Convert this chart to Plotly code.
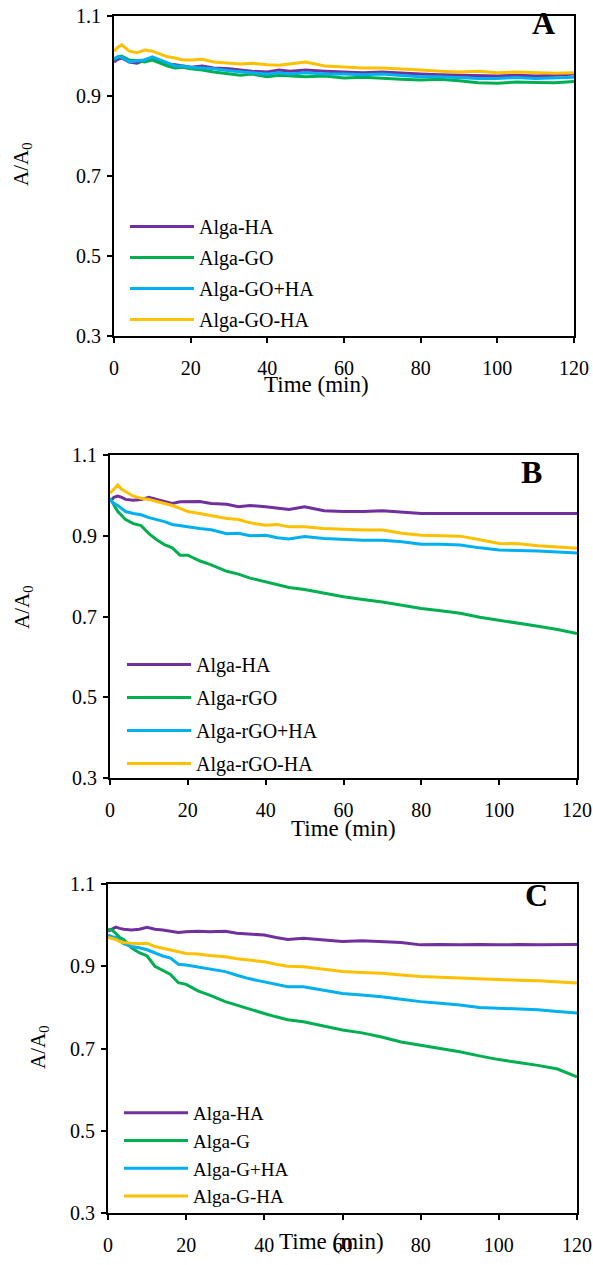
import plotly.graph_objects as go

# time grid (min) shared by all series
T = [0, 1, 2, 3, 4, 6, 8, 10, 12, 14, 16, 18, 20, 23, 26, 30, 33, 36, 40, 43, 46,
     50, 55, 60, 65, 70, 75, 80, 85, 90, 95, 100, 105, 110, 115, 120]

# panel A
A_HA = [0.985, 0.992, 0.995, 0.990, 0.985, 0.982, 0.990, 0.995, 0.988, 0.980, 0.978, 0.975, 0.972, 0.975, 0.970, 0.968, 0.965, 0.962,
        0.960, 0.965, 0.962, 0.965, 0.962, 0.960, 0.958, 0.960, 0.957, 0.955, 0.953, 0.952, 0.950, 0.950, 0.952, 0.950, 0.952, 0.955]
A_GO = [0.990, 0.998, 1.000, 0.995, 0.990, 0.988, 0.985, 0.990, 0.982, 0.975, 0.970, 0.972, 0.968, 0.965, 0.960, 0.955, 0.952, 0.955,
        0.948, 0.952, 0.950, 0.948, 0.950, 0.945, 0.947, 0.944, 0.942, 0.940, 0.942, 0.938, 0.933, 0.932, 0.935, 0.934, 0.933, 0.936]
A_GO_plus_HA = [0.993, 0.998, 0.997, 0.990, 0.985, 0.988, 0.990, 0.998, 0.990, 0.982, 0.975, 0.975, 0.972, 0.970, 0.968, 0.963, 0.960, 0.958,
                0.955, 0.958, 0.955, 0.958, 0.955, 0.955, 0.953, 0.955, 0.951, 0.948, 0.948, 0.946, 0.944, 0.944, 0.946, 0.944, 0.945, 0.947]
A_GO_HA = [1.012, 1.022, 1.028, 1.020, 1.012, 1.008, 1.015, 1.012, 1.005, 0.998, 0.995, 0.990, 0.990, 0.992, 0.985, 0.982, 0.980, 0.982,
           0.978, 0.977, 0.980, 0.985, 0.975, 0.972, 0.970, 0.970, 0.968, 0.965, 0.962, 0.960, 0.962, 0.958, 0.960, 0.958, 0.957, 0.958]

# panel B
B_HA = [0.985, 0.995, 0.998, 0.995, 0.990, 0.988, 0.990, 0.995, 0.990, 0.985, 0.980, 0.984, 0.984, 0.985, 0.980, 0.978, 0.972, 0.975,
        0.972, 0.968, 0.965, 0.972, 0.962, 0.960, 0.960, 0.962, 0.958, 0.955, 0.955, 0.955, 0.954, 0.955, 0.955, 0.955, 0.955, 0.955]
B_rGO = [0.993, 0.975, 0.960, 0.950, 0.940, 0.930, 0.925, 0.905, 0.890, 0.878, 0.870, 0.852, 0.852, 0.838, 0.828, 0.812, 0.805, 0.795,
         0.786, 0.778, 0.772, 0.767, 0.758, 0.749, 0.742, 0.736, 0.728, 0.720, 0.714, 0.708, 0.698, 0.691, 0.684, 0.676, 0.668, 0.658]
B_rGO_plus_HA = [0.990, 0.980, 0.975, 0.968, 0.960, 0.955, 0.952, 0.945, 0.940, 0.935, 0.928, 0.925, 0.922, 0.918, 0.915, 0.905, 0.906, 0.900,
                 0.901, 0.895, 0.892, 0.898, 0.893, 0.891, 0.889, 0.889, 0.885, 0.879, 0.879, 0.877, 0.870, 0.865, 0.864, 0.862, 0.860, 0.857]
B_rGO_HA = [1.005, 1.015, 1.026, 1.015, 1.010, 0.998, 0.993, 0.990, 0.985, 0.980, 0.975, 0.968, 0.960, 0.955, 0.950, 0.943, 0.940, 0.932,
            0.926, 0.928, 0.922, 0.922, 0.918, 0.916, 0.914, 0.914, 0.906, 0.901, 0.900, 0.899, 0.890, 0.881, 0.880, 0.875, 0.872, 0.869]

# panel C
C_HA = [0.985, 0.990, 0.995, 0.992, 0.990, 0.988, 0.990, 0.995, 0.990, 0.988, 0.985, 0.982, 0.984, 0.985, 0.984, 0.985, 0.980, 0.978,
        0.976, 0.970, 0.965, 0.968, 0.964, 0.960, 0.962, 0.960, 0.958, 0.952, 0.953, 0.952, 0.953, 0.952, 0.953, 0.952, 0.953, 0.953]
C_G = [0.990, 0.988, 0.980, 0.970, 0.965, 0.945, 0.933, 0.925, 0.900, 0.890, 0.880, 0.860, 0.856, 0.840, 0.830, 0.814, 0.805, 0.797,
       0.785, 0.777, 0.770, 0.765, 0.755, 0.745, 0.738, 0.728, 0.716, 0.708, 0.700, 0.692, 0.682, 0.673, 0.666, 0.659, 0.650, 0.631]
C_G_plus_HA = [0.976, 0.972, 0.970, 0.962, 0.955, 0.948, 0.945, 0.940, 0.932, 0.925, 0.920, 0.905, 0.903, 0.898, 0.892, 0.887, 0.878, 0.870,
               0.862, 0.856, 0.850, 0.850, 0.842, 0.834, 0.830, 0.826, 0.820, 0.814, 0.810, 0.806, 0.800, 0.798, 0.796, 0.794, 0.790, 0.786]
C_G_HA = [0.970, 0.968, 0.965, 0.960, 0.958, 0.956, 0.955, 0.956, 0.948, 0.944, 0.940, 0.935, 0.931, 0.930, 0.926, 0.923, 0.918, 0.915,
          0.911, 0.905, 0.900, 0.899, 0.893, 0.887, 0.885, 0.883, 0.879, 0.875, 0.873, 0.871, 0.869, 0.867, 0.866, 0.865, 0.862, 0.859]

COLORS = ["#7030A0", "#00B050", "#00B0F0", "#FFC000"]
FONT = "Liberation Serif, Times New Roman, serif"
W, H = 593, 1265

panels = [
    ("A", ["Alga-HA", "Alga-GO", "Alga-GO+HA", "Alga-GO-HA"], [A_HA, A_GO, A_GO_plus_HA, A_GO_HA]),
    ("B", ["Alga-HA", "Alga-rGO", "Alga-rGO+HA", "Alga-rGO-HA"], [B_HA, B_rGO, B_rGO_plus_HA, B_rGO_HA]),
    ("C", ["Alga-HA", "Alga-G", "Alga-G+HA", "Alga-G-HA"], [C_HA, C_G, C_G_plus_HA, C_G_HA]),
]

# plot boxes in page pixels: left, right, top, bottom
boxes = [(114, 574, 16, 336), (110, 577, 455, 778), (108, 577, 884, 1213)]
letter_pos = [(543, 23), (531, 472), (536, 895)]
xtitle_pos = [(316, 384), (343, 828), (332, 1241)]
ytitle_pos = [(22, 164), (23, 607), (39, 1047)]
legend_pos = [(125, 207), (122, 645), (119, 1094)]
legend_gap = [2, 4, 0]
legend_font = [20, 20, 19]

px = lambda x: x / W
py = lambda y: 1 - y / H

fig = go.Figure()
annotations = []
for i, (letter, names, series) in enumerate(panels):
    n = "" if i == 0 else str(i + 1)
    leg = "legend" if i == 0 else f"legend{i + 1}"
    for j, (name, ys) in enumerate(zip(names, series)):
        fig.add_trace(go.Scatter(x=T, y=ys, name=name, mode="lines",
                                 line=dict(color=COLORS[j], width=3),
                                 xaxis="x" + n, yaxis="y" + n, legend=leg,
                                 legendgroup=f"{letter}{j}"))
    l, r, t, b = boxes[i]
    axis_common = dict(showline=True, linecolor="black", linewidth=2, mirror=True,
                       ticks="outside", ticklen=5, tickwidth=1.5, tickcolor="black",
                       showgrid=False, zeroline=False, ticklabeloverflow="allow",
                       tickfont=dict(family=FONT, size=20, color="black"))
    fig.update_layout(**{
        "xaxis" + n: dict(domain=[px(l), px(r)], anchor="y" + n, range=[0, 120],
                          tickvals=[0, 20, 40, 60, 80, 100, 120], ticklabelstandoff=8,
                          **axis_common),
        "yaxis" + n: dict(domain=[py(b), py(t)], anchor="x" + n, range=[0.3, 1.1],
                          tickvals=[0.3, 0.5, 0.7, 0.9, 1.1], tickformat=".1f",
                          ticklabelstandoff=2, **axis_common),
        leg: dict(x=px(legend_pos[i][0]), y=py(legend_pos[i][1]), xanchor="left", yanchor="top",
                  bgcolor="rgba(0,0,0,0)", itemwidth=64, tracegroupgap=legend_gap[i],
                  font=dict(family=FONT, size=legend_font[i], color="black")),
    })
    common = dict(xref="paper", yref="paper", showarrow=False, xanchor="center", yanchor="middle")
    annotations.append(dict(text=f"<b>{letter}</b>", x=px(letter_pos[i][0]), y=py(letter_pos[i][1]),
                            font=dict(family=FONT, size=32, color="black"), **common))
    annotations.append(dict(text="Time (min)", x=px(xtitle_pos[i][0]), y=py(xtitle_pos[i][1]),
                            font=dict(family=FONT, size=23, color="black"), **common))
    annotations.append(dict(text="A/A<sub>0</sub>", x=px(ytitle_pos[i][0]), y=py(ytitle_pos[i][1]),
                            textangle=-90, font=dict(family=FONT, size=21, color="black"), **common))

fig.update_layout(width=W, height=H, margin=dict(l=0, r=0, t=0, b=0, autoexpand=False),
                  paper_bgcolor="white", plot_bgcolor="white",
                  font=dict(family=FONT, color="black"),
                  annotations=annotations)
# drop the default page margin so the figure fills the window exactly
fig.write_html("out.html", config={"displayModeBar": False},
               post_script="document.body.style.margin='0';")
